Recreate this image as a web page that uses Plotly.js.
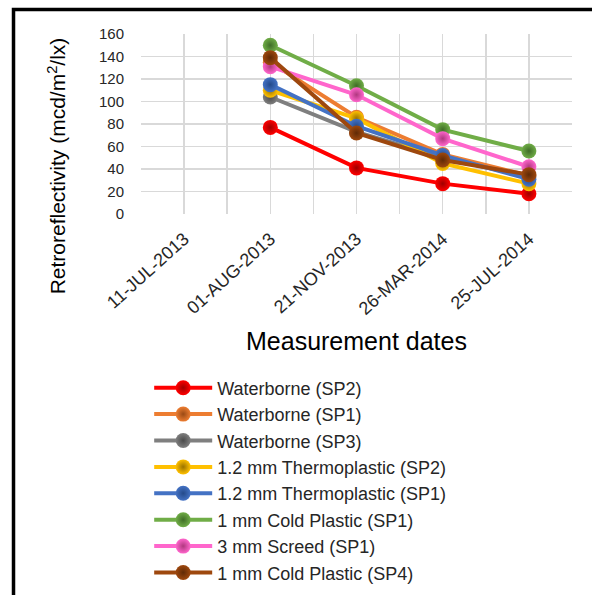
<!DOCTYPE html>
<html>
<head>
<meta charset="utf-8">
<script src="https://cdn.plot.ly/plotly-3.0.1.min.js"></script>
<style>
  html, body { margin: 0; padding: 0; background: #fff; overflow: hidden; }
  #chart { position: absolute; left: 0; top: 0; width: 592px; height: 595px; }
</style>
</head>
<body>
<div id="chart"></div>
<script>
// ---- Data ----
const dates = ['11-JUL-2013', '01-AUG-2013', '21-NOV-2013', '26-MAR-2014', '25-JUL-2014'];
const seriesNames = [
  'Waterborne (SP2)',
  'Waterborne (SP1)',
  'Waterborne (SP3)',
  '1.2 mm Thermoplastic (SP2)',
  '1.2 mm Thermoplastic (SP1)',
  '1 mm Cold Plastic (SP1)',
  '3 mm Screed (SP1)',
  '1 mm Cold Plastic (SP4)'
];
const waterborneSP2   = [null, 77, 41, 27, 18];
const waterborneSP1   = [null, 135, 86, 53, 34];
const waterborneSP3   = [null, 104, 73, 50, 33];
const thermo12SP2     = [null, 110, 85, 45, 27];
const thermo12SP1     = [null, 115, 78, 52, 31];
const coldPlastic1SP1 = [null, 150, 114, 75, 56];
const screed3SP1      = [null, 131, 106, 67, 42];
const coldPlastic1SP4 = [null, 139, 72, 48, 35];
const seriesValues = [waterborneSP2, waterborneSP1, waterborneSP3, thermo12SP2,
                      thermo12SP1, coldPlastic1SP1, screed3SP1, coldPlastic1SP4];
const yTicks = [0, 20, 40, 60, 80, 100, 120, 140, 160];

// ---- Styles ----
const colors = ['#FF0000', '#ED7D31', '#7F7F7F', '#FFC000', '#4472C4', '#70AD47', '#FF66CC', '#9E480E'];
const darks  = ['#A00000', '#9A4A15', '#4A4A4A', '#9A7300', '#244A8A', '#3F6D27', '#B0387F', '#602A06'];
const FONT = 'Liberation Sans, Arial, sans-serif';

const traces = seriesNames.map((name, i) => ({
  type: 'scatter', mode: 'lines+markers', name: name,
  x: dates, y: seriesValues[i], xaxis: 'x', yaxis: 'y',
  line: { color: colors[i], width: 4 },
  marker: { color: colors[i], size: 15, symbol: 'circle',
            gradient: { type: 'radial', color: darks[i] } },
  cliponaxis: false
}));

// helper trace for gridlines at category boundaries
traces.push({
  type: 'scatter', mode: 'markers', x: dates, y: dates.map(() => null),
  xaxis: 'x2', yaxis: 'y', showlegend: false, hoverinfo: 'skip',
  marker: { opacity: 0 }
});

const gridColor = '#D9D9D9';
const layout = {
  width: 592, height: 595,
  margin: { l: 141, r: 20, t: 34, b: 381, autoexpand: false },
  paper_bgcolor: '#fff', plot_bgcolor: '#fff',
  font: { family: FONT, color: '#262626' },
  showlegend: true,
  legend: {
    xref: 'container', yref: 'container',
    x: 0.252, y: 0.379, xanchor: 'left', yanchor: 'top',
    font: { family: FONT, size: 18, color: '#262626' },
    itemwidth: 58, tracegroupgap: 0, bgcolor: 'rgba(0,0,0,0)'
  },
  xaxis: {
    type: 'category', categoryorder: 'array', categoryarray: dates,
    range: [-0.5, 4.5], tickangle: -42, automargin: false,
    tickfont: { family: FONT, size: 18, color: '#262626' },
    ticklabelstandoff: 10,
    showgrid: true, gridcolor: gridColor, gridwidth: 1.5,
    showline: false, zeroline: false, ticks: '', fixedrange: true
  },
  xaxis2: {
    type: 'category', categoryorder: 'array', categoryarray: dates,
    overlaying: 'x', anchor: 'y', range: [-0.5, 4.5], tickson: 'boundaries',
    showgrid: true, gridcolor: gridColor, gridwidth: 1.5, automargin: false,
    showticklabels: false, ticks: '', showline: false, zeroline: false
  },
  yaxis: {
    range: [0, 160], tickvals: yTicks, automargin: false,
    tickfont: { family: FONT, size: 15, color: '#262626' },
    showgrid: true, gridcolor: gridColor, gridwidth: 1.5,
    zeroline: false, showline: false, ticks: '', ticklabelstandoff: 16
  },
  shapes: [
    { type: 'rect', xref: 'paper', yref: 'paper', x0: -0.2958, x1: 1.2, y0: -2.3, y1: 1.136,
      line: { color: '#000', width: 3.5 }, fillcolor: 'rgba(0,0,0,0)', layer: 'above' }
  ],
  annotations: [
    { text: 'Retroreflectivity (mcd/m<sup>2</sup>/lx)', xref: 'paper', yref: 'paper',
      x: -0.195, y: 0.27, xanchor: 'center', yanchor: 'middle', textangle: -90,
      showarrow: false, font: { family: FONT, size: 21, color: '#000' } },
    { text: 'Measurement dates', xref: 'paper', yref: 'paper',
      x: 0.5, y: -0.705, xanchor: 'center', yanchor: 'middle',
      showarrow: false, font: { family: FONT, size: 25, color: '#000' } }
  ]
};

Plotly.newPlot('chart', traces, layout, { displayModeBar: false, staticPlot: true });
</script>
</body>
</html>
